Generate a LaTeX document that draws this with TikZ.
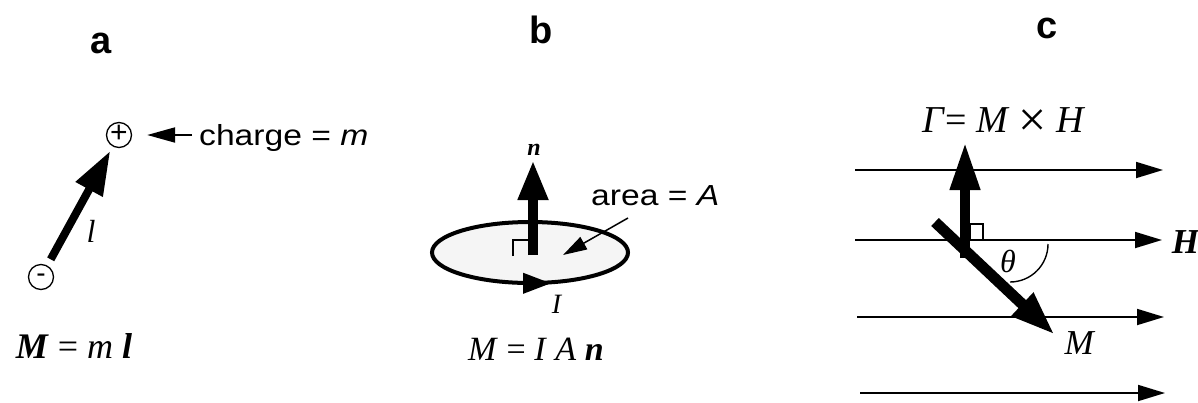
\documentclass[tikz,border=0pt]{standalone}
\usepackage{fontspec}
\setmainfont{Liberation Serif}
\newfontfamily\widesans[FakeStretch=1.16]{Liberation Sans}
\newfontfamily\plainsans{Liberation Sans}
\usetikzlibrary{arrows.meta,shapes.geometric}
\tikzset{
  title/.style={inner sep=0pt, anchor=base, font=\plainsans\bfseries\fontsize{38}{38}\selectfont},
  sanslabel/.style={inner sep=0pt, anchor=base west, font=\widesans\fontsize{29}{29}\selectfont},
  chargenode/.style={circle, draw, line width=1.3pt, minimum size=25pt, inner sep=0pt, font=\plainsans\fontsize{30}{30}\selectfont},
  fatarrow/.style n args={3}{line width=#1, -{Triangle[length=#2 0 0, width=#3 0 0]}},
  fieldline/.style={line width=1.8pt, -{Triangle[length=27pt 0 0, width=16pt 0 0]}},
  thinline/.style={line width=1.4pt},
  serif/.style={inner sep=0pt, font=\fontsize{#1}{#1}\selectfont},
}
\begin{document}
\begin{tikzpicture}[x=1pt,y=-1pt]
\useasboundingbox (0,0) rectangle (1198,402);
\fill[white] (0,0) rectangle (1198,402);

% titles
\node[title] (ta) at (101,53) {a};
\node[title] (tb) at (541,43) {b};
\node[title] (tc) at (1047,38) {c};

% ---------- panel a ----------
\node[chargenode] (plus) at (119,135) {};
\node[chargenode] (minus) at (41,277) {};
\node[inner sep=0pt, font=\plainsans\fontsize{30}{30}\selectfont] (plussign) at (119,134) {+};
\node[inner sep=0pt, font=\plainsans\fontsize{28}{28}\selectfont] (minussign) at (41,278) {-};
\draw[fatarrow={8pt}{44pt}{29pt}, shorten <=7pt, shorten >=5pt] (minus) -- (plus);
\node[serif=32] (llab) at (91,231) {\itshape l};
\node[sanslabel] (chg) at (199,145) {charge = \textit{m}};
\coordinate (chgtail) at (192,135);
\draw[line width=2pt, -{Triangle[length=28pt 0 0, width=15pt 0 0]}, shorten >=15pt] (chgtail) -- (plus);
\node[serif=36, anchor=base] (fa) at (74,358) {\textbf{\textit{M}} = \textit{m} \textbf{\textit{l}}};

% ---------- panel b ----------
\node[ellipse, draw, line width=4pt, fill=gray!8, minimum width=196pt, minimum height=61pt, inner sep=0pt] (loop) at (530,252.5) {};
\coordinate (nbase) at (533,255);
\coordinate (ntip) at (533,160);
\draw[fatarrow={10pt}{40pt}{28pt}] (nbase) -- (ntip);
\draw[thinline] (513,256) -- (513,240) -- (528,240);
\node[serif=24] (nlab) at (534,150) {\textbf{\textit{n}}};
\node[sanslabel] (area) at (591,205) {area = \textit{A}};
\coordinate (areatail) at (628,218);
\coordinate (areatip) at (563,255);
\draw[line width=1.5pt, -{Triangle[length=24pt 0 0, width=14pt 0 0]}] (areatail) -- (areatip);
\coordinate (cur1) at (519,283.3);
\coordinate (cur2) at (551,283.3);
\draw[line width=4pt, -{Triangle[length=28pt 0 0, width=20pt 0 0]}] (cur1) -- (cur2);
\node[serif=28] (Ilab) at (557,304) {\textit{I}};
\node[serif=34, anchor=base west] (fb) at (468,360) {\textit{M} = \textit{I} \textit{A} \textbf{\textit{n}}};

% ---------- panel c ----------
\coordinate (h1s) at (855,170); \coordinate (h1e) at (1163,170);
\coordinate (h2s) at (855,240); \coordinate (h2e) at (1162,240);
\coordinate (h3s) at (857,317); \coordinate (h3e) at (1164,317);
\coordinate (h4s) at (860,393); \coordinate (h4e) at (1165,393);
\draw[fieldline] (h1s) -- (h1e);
\draw[fieldline] (h2s) -- (h2e);
\draw[fieldline] (h3s) -- (h3e);
\draw[fieldline] (h4s) -- (h4e);
\node[serif=35] (Hlab) at (1186,242) {\textbf{\textit{H}}};

\coordinate (gbase) at (965,258);
\coordinate (gtip) at (965,142);
\draw[fatarrow={10pt}{48pt}{28pt}] (gbase) -- (gtip);
\coordinate (mbase) at (935,222);
\coordinate (mtip) at (1055,335);
\draw[fatarrow={11pt}{45pt}{29pt}] (mbase) -- (mtip);
\draw[thinline] (970,240) -- (970,224) -- (983,224) -- (983,240);
\draw[thinline] (1048,244) arc[start angle=0, end angle=90, radius=38];
\node[serif=32] (thlab) at (1008,261) {\textit{θ}};
\node[serif=38, anchor=base] (gam) at (1004,132) {\textit{Γ}= \textit{M} \raisebox{-4pt}{\fontsize{50}{50}\selectfont ×} \textit{H}};
\node[serif=35] (Mlab) at (1080,343) {\textit{M}};
\end{tikzpicture}
\end{document}
